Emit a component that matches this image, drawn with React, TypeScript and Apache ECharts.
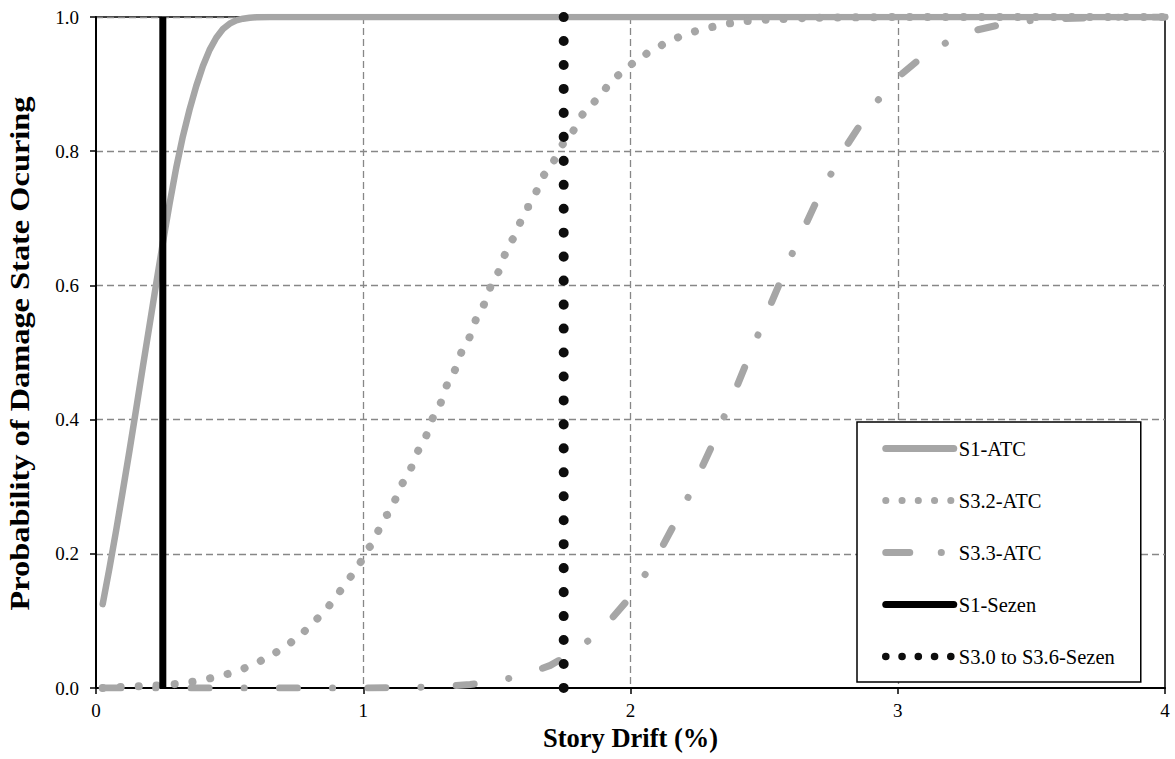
import { useEffect, useRef } from "react";
import * as echarts from "echarts";

const SERIF = "'Liberation Serif', 'Times New Roman', Times, serif";

// S1-ATC (solid grey)
const s1AtcX = [0.025, 0.05, 0.075, 0.1, 0.125, 0.15, 0.175, 0.2, 0.225, 0.25, 0.275, 0.3, 0.325, 0.35, 0.375, 0.4, 0.425, 0.45, 0.475, 0.5, 0.525, 0.55, 0.575, 0.6, 0.65, 1, 2, 3, 4];
const s1AtcY = [0.125, 0.178, 0.234, 0.293, 0.353, 0.415, 0.478, 0.54, 0.602, 0.663, 0.721, 0.775, 0.822, 0.862, 0.897, 0.927, 0.951, 0.969, 0.982, 0.99, 0.995, 0.9975, 0.999, 0.9995, 1, 1, 1, 1, 1];

// S3.2-ATC (grey round dots)
const s32X = [0.025, 0.2, 0.308, 0.377, 0.448, 0.515, 0.581, 0.645, 0.705, 0.76, 0.811, 0.86, 0.903, 0.944, 0.984, 1.022, 1.09, 1.154, 1.214, 1.271, 1.327, 1.384, 1.44, 1.497, 1.554, 1.617, 1.683, 1.756, 1.834, 1.886, 1.927, 1.98, 2.033, 2.095, 2.157, 2.223, 2.289, 2.358, 2.429, 2.496, 2.7, 3.0, 4.0];
const s32Y = [0.0, 0.003, 0.006, 0.01, 0.016, 0.023, 0.033, 0.046, 0.061, 0.077, 0.097, 0.117, 0.14, 0.162, 0.185, 0.21, 0.258, 0.308, 0.358, 0.409, 0.462, 0.513, 0.564, 0.615, 0.667, 0.717, 0.767, 0.814, 0.86, 0.882, 0.904, 0.922, 0.939, 0.954, 0.967, 0.977, 0.984, 0.99, 0.994, 0.996, 0.999, 1.0, 1.0];

// S3.3-ATC (grey long dash - dot)
const s33X = [0.025, 0.5, 1.0, 1.2, 1.3, 1.4, 1.5, 1.6, 1.7, 1.8, 1.9, 2.0, 2.1, 2.2, 2.3, 2.4, 2.5, 2.6, 2.7, 2.8, 2.9, 3.0, 3.1, 3.2, 3.3, 3.4, 3.5, 3.6, 3.8, 4.0];
const s33Y = [0.0, 0.0, 0.0, 0.001, 0.0025, 0.0052, 0.0103, 0.0191, 0.0337, 0.0565, 0.0899, 0.136, 0.1966, 0.271, 0.357, 0.4515, 0.5485, 0.643, 0.729, 0.803, 0.864, 0.91, 0.9435, 0.966, 0.981, 0.99, 0.9948, 0.9975, 0.9995, 1.0];

// S1-Sezen (solid black vertical)
const s1SezenX = [0.25, 0.25];
const s1SezenY = [0, 1];

// S3.0 to S3.6-Sezen (black dots vertical)
const s3SezenX = [1.75, 1.75];
const s3SezenY = [0, 1];

const xTicks = [0, 1, 2, 3, 4];
const yTicks = [0, 0.2, 0.4, 0.6, 0.8, 1.0];

const zip = (xs: number[], ys: number[]) => xs.map((x, i) => [x, ys[i]]);

export default function App() {
  const ref = useRef<HTMLDivElement>(null);
  useEffect(() => {
    if (!ref.current) return;
    const chart = echarts.init(ref.current, undefined, { renderer: "svg" });
    const grey = "#A6A6A6";
    const hiddenSymbol = { color: "transparent", borderColor: "transparent", borderWidth: 0, opacity: 0 };
    chart.setOption({
      animation: false,
      backgroundColor: "#fff",
      grid: {
        left: 96,
        top: 17,
        width: 1069,
        height: 671,
        show: true,
        borderColor: "#000",
        borderWidth: 1.5,
        backgroundColor: "transparent",
      },
      graphic: [
        {
          type: "text",
          x: 19,
          y: 353.5,
          rotation: Math.PI / 2,
          scaleX: 1.2,
          style: {
            text: "Probability of Damage State Ocuring",
            font: `bold 27px ${SERIF}`,
            fill: "#000",
            align: "center",
            verticalAlign: "middle",
            textAlign: "center",
            textVerticalAlign: "middle",
          },
        },
      ],
      xAxis: {
        type: "value",
        min: xTicks[0],
        max: xTicks[xTicks.length - 1],
        interval: 1,
        name: "Story Drift (%)",
        nameLocation: "middle",
        nameGap: 35,
        nameTextStyle: { fontFamily: SERIF, fontSize: 26.5, fontWeight: "bold", color: "#000" },
        axisLine: { show: true, onZero: false, lineStyle: { color: "#000", width: 2 } },
        axisTick: { show: true, inside: false, length: 6, lineStyle: { color: "#000", width: 1.5 } },
        axisLabel: { fontFamily: SERIF, fontSize: 19, color: "#000", margin: 13 },
        splitLine: {
          show: true,
          showMinLine: false,
          showMaxLine: false,
          lineStyle: { color: "#878787", width: 1.3, type: [7, 4] },
        },
      },
      yAxis: {
        type: "value",
        min: yTicks[0],
        max: yTicks[yTicks.length - 1],
        interval: 0.2,
        axisLine: { show: true, onZero: false, lineStyle: { color: "#000", width: 2 } },
        axisTick: { show: true, inside: false, length: 6, lineStyle: { color: "#000", width: 1.5 } },
        axisLabel: {
          fontFamily: SERIF,
          fontSize: 19,
          color: "#000",
          margin: 17,
          formatter: (v: number) => v.toFixed(1),
        },
        splitLine: {
          show: true,
          showMinLine: false,
          showMaxLine: true,
          lineStyle: { color: "#878787", width: 1.3, type: [7, 4] },
        },
      },
      legend: {
        orient: "vertical",
        left: 857,
        top: 422,
        padding: [16, 26, 15, 25],
        itemWidth: 68,
        itemHeight: 20,
        itemGap: 31,
        selectedMode: false,
        backgroundColor: "#fff",
        borderColor: "#000",
        borderWidth: 1.5,
        textStyle: { fontFamily: SERIF, fontSize: 20.5, color: "#000" },
        itemStyle: hiddenSymbol,
        data: [
          { name: "S1-ATC", itemStyle: hiddenSymbol, lineStyle: { width: 7, cap: "round", type: "solid" } },
          { name: "S3.2-ATC", itemStyle: hiddenSymbol, lineStyle: { width: 7, cap: "round", type: [0.1, 16.15] } },
          { name: "S3.3-ATC", itemStyle: hiddenSymbol, lineStyle: { width: 7, cap: "round", type: [24, 31.5, 0.1, 40] } },
          { name: "S1-Sezen", itemStyle: hiddenSymbol, lineStyle: { width: 7, cap: "round", type: "solid" } },
          { name: "S3.0 to S3.6-Sezen", itemStyle: hiddenSymbol, lineStyle: { width: 7.5, cap: "round", type: [0.1, 16.15] } },
        ],
      },
      series: [
        {
          name: "S1-ATC",
          type: "line",
          data: zip(s1AtcX, s1AtcY),
          symbol: "none",
          showSymbol: false,
          smooth: false,
          itemStyle: { color: grey },
          lineStyle: { color: grey, width: 6.5, cap: "round", join: "round" },
        },
        {
          name: "S3.2-ATC",
          type: "line",
          data: zip(s32X, s32Y),
          symbol: "none",
          showSymbol: false,
          smooth: 0.2,
          smoothMonotone: "x",
          itemStyle: { color: grey },
          lineStyle: { color: grey, width: 8, cap: "round", join: "round", type: [0.1, 17.9] },
        },
        {
          name: "S3.3-ATC",
          type: "line",
          data: zip(s33X, s33Y),
          symbol: "none",
          showSymbol: false,
          smooth: false,
          itemStyle: { color: grey },
          lineStyle: { color: grey, width: 7, cap: "round", join: "round", type: [18, 35, 0.1, 35.3] },
        },
        {
          name: "S1-Sezen",
          type: "line",
          data: zip(s1SezenX, s1SezenY),
          symbol: "none",
          showSymbol: false,
          itemStyle: { color: "#000" },
          lineStyle: { color: "#000", width: 7, cap: "butt" },
        },
        {
          name: "S3.0 to S3.6-Sezen",
          type: "line",
          data: zip(s3SezenX, s3SezenY),
          symbol: "none",
          showSymbol: false,
          itemStyle: { color: "#0d0d0d" },
          lineStyle: { color: "#0d0d0d", width: 10, cap: "round", type: [0.1, 23.86] },
        },
      ],
    });
    return () => chart.dispose();
  }, []);
  return (
    <div
      ref={ref}
      style={{ position: "fixed", left: 0, top: 0, width: 1175, height: 759, background: "#fff" }}
    />
  );
}
